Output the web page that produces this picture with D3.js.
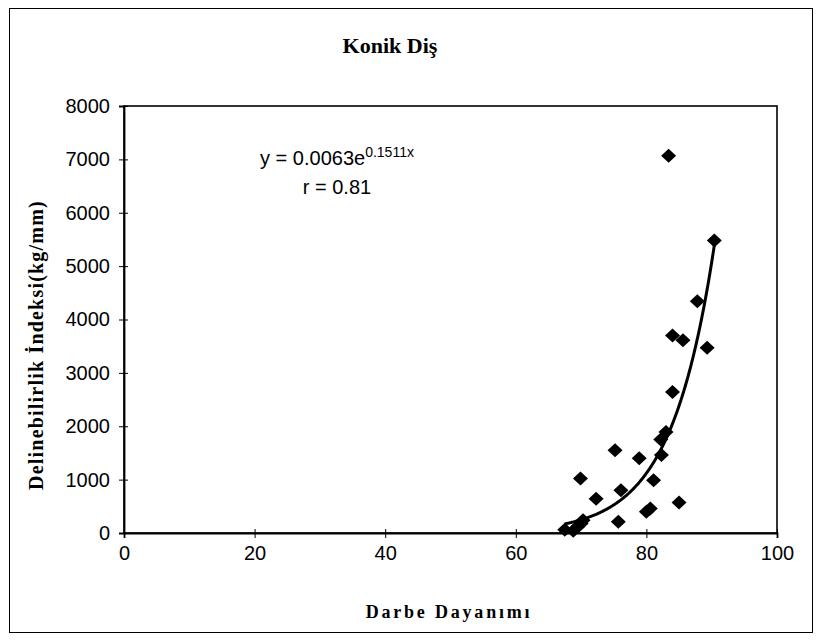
<!DOCTYPE html>
<html><head><meta charset="utf-8">
<script src="https://cdn.jsdelivr.net/npm/d3@7"></script>
<style>body{margin:0;background:#fff}svg{display:block}</style>
</head><body>
<script>
const title = "Konik Diş";
const xTitle = "Darbe Dayanımı";
const yTitle = "Delinebilirlik İndeksi(kg/mm)";
const xTicks = [0, 20, 40, 60, 80, 100];
const yTicks = [0, 1000, 2000, 3000, 4000, 5000, 6000, 7000, 8000];
const xValues = [67.5, 68.8, 69.5, 70.0, 70.3, 69.9, 72.3, 75.2, 75.7, 76.1, 78.9, 80.0, 80.6, 81.1, 82.3, 82.2, 83.0, 84.0, 84.0, 85.6, 89.3, 87.8, 90.4, 83.4, 85.0];
const yValues = [60, 40, 120, 180, 240, 1020, 640, 1550, 210, 800, 1400, 400, 460, 990, 1460, 1750, 1890, 2640, 3700, 3610, 3470, 4340, 5480, 7070, 570];
const trendCoef = [0.0063, 0.1511];   // y = a e^(b x), as printed on the chart
const trendRange = [67.5, 90.4];
const eqText = "y = 0.0063e";
const eqExp = "0.1511x";
const rText = "r = 0.81";

const W = 823, H = 643;
const m = {left: 124, right: 777, top: 106, bottom: 533};
const sans = "Liberation Sans, Arial, sans-serif";
const serif = "Liberation Serif, Times New Roman, serif";
const svg = d3.select("body").append("svg").attr("width", W).attr("height", H);
svg.append("rect").attr("x", 9.5).attr("y", 8.5).attr("width", 803).attr("height", 624)
  .attr("fill", "#fff").attr("stroke", "#000").attr("stroke-width", 1);

const x = d3.scaleLinear().domain([0, 100]).range([m.left, m.right]);
const y = d3.scaleLinear().domain([0, 8000]).range([m.bottom, m.top]);

// plot frame
svg.append("rect").attr("x", m.left).attr("y", m.top).attr("width", m.right - m.left).attr("height", m.bottom - m.top)
  .attr("fill", "none").attr("stroke", "#000").attr("stroke-width", 1.6);

const ax = svg.append("g").attr("transform", `translate(0,${m.bottom})`)
  .call(d3.axisBottom(x).tickValues(xTicks).tickFormat(d3.format("d")).tickSize(5).tickPadding(8));
ax.selectAll(".tick line").attr("y1", -4);
const ay = svg.append("g").attr("transform", `translate(${m.left},0)`)
  .call(d3.axisLeft(y).tickValues(yTicks).tickFormat(d3.format("d")).tickSize(5).tickPadding(9));
ay.selectAll(".tick line").attr("x1", 4).attr("x2", -5);
[ax, ay].forEach(g => {
  g.select(".domain").attr("stroke-width", 1.8);
  g.selectAll(".tick line").attr("stroke-width", 1);
  g.selectAll("text").attr("font-family", sans).attr("font-size", 20).attr("fill", "#000");
});

// trendline
const trendX = d3.range(trendRange[0], trendRange[1] + 0.001, 0.1);
svg.append("path").datum(trendX)
  .attr("d", d3.line().x(d => x(d)).y(d => y(trendCoef[0] * Math.exp(trendCoef[1] * d))))
  .attr("fill", "none").attr("stroke", "#000").attr("stroke-width", 3);

// points (diamonds)
svg.append("g").selectAll("path").data(xValues.map((v, i) => [v, yValues[i]])).join("path")
  .attr("transform", d => `translate(${x(d[0])},${y(d[1])})`)
  .attr("d", "M0,-7L7.5,0L0,7L-7.5,0Z").attr("fill", "#000");

// texts
svg.append("text").attr("x", 390).attr("y", 53).attr("text-anchor", "middle")
  .attr("font-family", serif).attr("font-weight", "bold").attr("font-size", 22)
  .text(title);
const eq = svg.append("text").attr("x", 337).attr("y", 165).attr("text-anchor", "middle")
  .attr("font-family", sans).attr("font-size", 20);
eq.append("tspan").text(eqText);
eq.append("tspan").attr("font-size", 14).attr("dy", -8).text(eqExp);
svg.append("text").attr("x", 337).attr("y", 194).attr("text-anchor", "middle")
  .attr("font-family", sans).attr("font-size", 20).text(rText);
svg.append("text").attr("x", 449).attr("y", 618).attr("text-anchor", "middle")
  .attr("font-family", serif).attr("font-weight", "bold").attr("font-size", 18)
  .attr("letter-spacing", 2.8).text(xTitle);
svg.append("text").attr("transform", `translate(43,345) rotate(-90)`).attr("text-anchor", "middle")
  .attr("font-family", serif).attr("font-weight", "bold").attr("font-size", 20)
  .attr("letter-spacing", 1.2).text(yTitle);
</script>
</body></html>
